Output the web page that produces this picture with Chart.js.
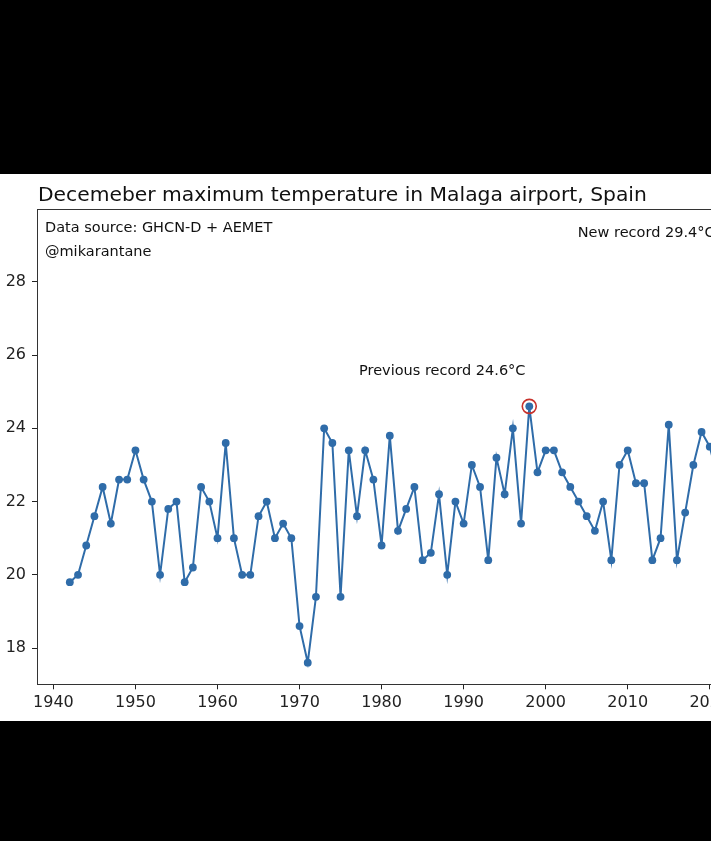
<!DOCTYPE html>
<html><head><meta charset="utf-8">
<script src="https://cdn.jsdelivr.net/npm/chart.js@4.4.0/dist/chart.umd.min.js"></script>
<style>
html,body{margin:0;padding:0;background:#000;overflow:hidden;width:711px;height:841px;}
#wrap{position:absolute;left:0;top:174px;width:800px;height:547px;background:#fff;}
canvas{display:block;}
</style></head><body>
<div id="wrap"><canvas id="c" width="800" height="547"></canvas></div>
<script>
const years = [1942,1943,1944,1945,1946,1947,1948,1949,1950,1951,1952,1953,1954,1955,1956,1957,1958,1959,
  1960,1961,1962,1963,1964,1965,1966,1967,1968,1969,1970,1971,1972,1973,1974,1975,1976,1977,1978,1979,
  1980,1981,1982,1983,1984,1985,1986,1987,1988,1989,1990,1991,1992,1993,1994,1995,1996,1997,1998,1999,
  2000,2001,2002,2003,2004,2005,2006,2007,2008,2009,2010,2011,2012,2013,2014,2015,2016,2017,2018,2019,
  2020,2021,2022];
const decemberMaxTemp = [19.8,20.0,20.8,21.6,22.4,21.4,22.6,22.6,23.4,22.6,22.0,20.0,21.8,22.0,19.8,20.2,22.4,22.0,
  21.0,23.6,21.0,20.0,20.0,21.6,22.0,21.0,21.4,21.0,18.6,17.6,19.4,24.0,23.6,19.4,23.4,21.6,23.4,22.6,
  20.8,23.8,21.2,21.8,22.4,20.4,20.6,22.2,20.0,22.0,21.4,23.0,22.4,20.4,23.2,22.2,24.0,21.4,24.6,22.8,
  23.4,23.4,22.8,22.4,22.0,21.6,21.2,22.0,20.4,23.0,23.4,22.5,22.5,20.4,21.0,24.1,20.4,21.7,23.0,23.9,
  23.5,22.6,29.4];
const highlightYears = [1998];
const xTickValues = [1940,1950,1960,1970,1980,1990,2000,2010,2020];
const yTickValues = [18,20,22,24,26,28];
const chartTitle = "Decemeber maximum temperature in Malaga airport, Spain";
const noteSource = "Data source: GHCN-D + AEMET";
const noteAuthor = "@mikarantane";
const noteNew = "New record 29.4°C";
const notePrev = "Previous record 24.6°C";

const FONT = '"DejaVu Sans", sans-serif';
const LINE = '#2f6ca9';

const deco = {
  id: 'deco',
  afterDraw(chart) {
    const ctx = chart.ctx, a = chart.chartArea;
    const w = a.right - a.left, h = a.bottom - a.top;
    ctx.save();
    ctx.strokeStyle = '#333';
    ctx.lineWidth = 1;
    ctx.strokeRect(Math.round(a.left) + 0.5, Math.round(a.top) + 0.5, Math.round(w), Math.round(h));
    ctx.fillStyle = '#111';
    ctx.font = '20.3px ' + FONT;
    ctx.textBaseline = 'alphabetic';
    ctx.textAlign = 'left';
    ctx.fillText(chartTitle, a.left + 1, 27);
    ctx.font = '14.5px ' + FONT;
    ctx.textBaseline = 'middle';
    ctx.fillText(noteSource, a.left + 8, a.top + 19);
    ctx.fillText(noteAuthor, a.left + 8, a.top + 43);
    ctx.fillText(noteNew, a.left + 0.749 * w, a.top + 24);
    ctx.fillText(notePrev, a.left + 0.446 * w, a.top + 162.5);
    ctx.restore();
  }
};

new Chart(document.getElementById('c'), {
  type: 'scatter',
  data: {
    datasets: [
      {
        data: highlightYears.map(yr => ({x: yr, y: decemberMaxTemp[years.indexOf(yr)]})),
        showLine: false,
        pointRadius: 7,
        pointBorderWidth: 1.6,
        pointBorderColor: '#c8322c',
        pointBackgroundColor: 'rgba(0,0,0,0)',
        order: 0
      },
      {
        data: years.map((yr, i) => ({x: yr, y: decemberMaxTemp[i]})),
        showLine: true,
        borderColor: LINE,
        backgroundColor: LINE,
        borderWidth: 2,
        pointRadius: 3.9,
        pointBackgroundColor: LINE,
        pointBorderColor: LINE,
        pointBorderWidth: 0,
        tension: 0,
        order: 1
      }
    ]
  },
  options: {
    responsive: false,
    devicePixelRatio: 1,
    animation: false,
    layout: {padding: {top: 35, right: 41, left: 0, bottom: 0}},
    plugins: {legend: {display: false}, tooltip: {enabled: false}, title: {display: false}},
    scales: {
      x: {
        type: 'linear', min: 1938, max: 2026,
        afterBuildTicks: s => { s.ticks = xTickValues.map(v => ({value: v})); },
        afterFit: s => { s.height = 36.7; },
        ticks: {font: {family: FONT, size: 16}, color: '#222', padding: 4, maxRotation: 0, autoSkip: false,
                callback: v => String(v)},
        grid: {drawOnChartArea: false, drawTicks: true, tickLength: 5, color: '#222'},
        border: {display: false}
      },
      y: {
        type: 'linear', min: 17.01, max: 29.99,
        afterBuildTicks: s => { s.ticks = yTickValues.map(v => ({value: v})); },
        afterFit: s => { s.width = 37; },
        ticks: {font: {family: FONT, size: 16}, color: '#222', padding: 6, callback: v => String(v)},
        grid: {drawOnChartArea: false, drawTicks: true, tickLength: 5, color: '#222'},
        border: {display: false}
      }
    }
  },
  plugins: [deco]
});
</script>
</body></html>
